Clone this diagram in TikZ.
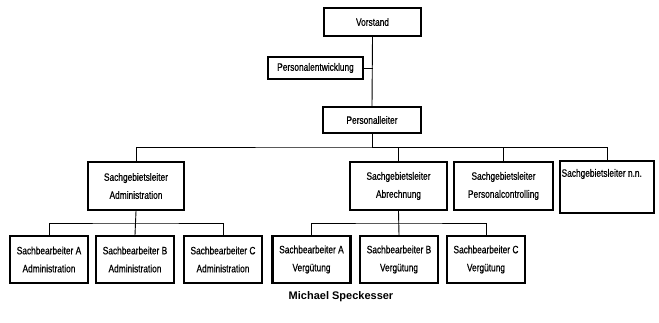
\documentclass[tikz,border=0pt]{standalone}
\usepackage{fontspec}
\setmainfont{Liberation Sans}
\newfontfamily\narrowfont[FakeStretch=0.78,FakeBold=0.6]{Liberation Sans}
\begin{document}
\begin{tikzpicture}[x=1pt,y=-1pt,
  label text/.style={font=\narrowfont\fontsize{10.7}{18}\selectfont},
  box/.style={draw,line width=2.2pt,label text,align=center,inner sep=0pt},
  link/.style={line width=0.9pt}]
\useasboundingbox (0,0) rectangle (659,323);

% top of the hierarchy
\node[box,minimum width=97,minimum height=28] (vor) at (372.5,22) {Vorstand};
\node[box,minimum width=95,minimum height=22] (pe) at (315.5,68) {Personalentwicklung};
\node[box,minimum width=98,minimum height=26] (pl) at (372,120) {Personalleiter};

% department heads
\node[box,minimum width=96,minimum height=48] (sa) at (136,186) {Sachgebietsleiter\\Administration};
\node[box,minimum width=97,minimum height=48] (sb) at (398.5,186) {Sachgebietsleiter\\Abrechnung};
\node[box,minimum width=99,minimum height=48] (sc) at (503.5,186) {Sachgebietsleiter\\Personalcontrolling};
\node[box,minimum width=94,minimum height=52] (sn) at (607,187) {};
\node[label text,anchor=west,inner sep=0pt] (snt) at ([xshift=2.5pt,yshift=13pt]sn.west) {Sachgebietsleiter n.n.};

% clerks
\foreach \n/\x/\t in {aa/49/{Sachbearbeiter A\\Administration},
                      ab/135/{Sachbearbeiter B\\Administration},
                      ac/223/{Sachbearbeiter C\\Administration},
                      va/311.5/{Sachbearbeiter A\\Vergütung},
                      vb/399/{Sachbearbeiter B\\Vergütung},
                      vc/486/{Sachbearbeiter C\\Vergütung}}
  \node[box,minimum width=78,minimum height=47] (\n) at (\x,259.5) {\t};

% connectors
\coordinate (bus1) at (372,147);
\draw[link] (vor.south) -- (pl.north);
\draw[link] (pe.east) -- (pe.east -| vor.south);
\draw[link] (pl.south) -- (bus1);
\draw[link] (sa.north) |- (bus1) -| (sn.north);
\draw[link] (bus1) -| (sb.north);
\draw[link] (bus1) -| (sc.north);

\draw[link] (sa.south) -- (ab.north);
\draw[link] (aa.north) |- (ab.north |- 0,223) -| (ac.north);
\draw[link] (sb.south) -- (vb.north);
\draw[link] (va.north) |- (vb.north |- 0,223) -| (vc.north);

\node[font=\fontsize{11}{13}\selectfont\bfseries] (auth) at (341,297) {Michael Speckesser};
\end{tikzpicture}
\end{document}
